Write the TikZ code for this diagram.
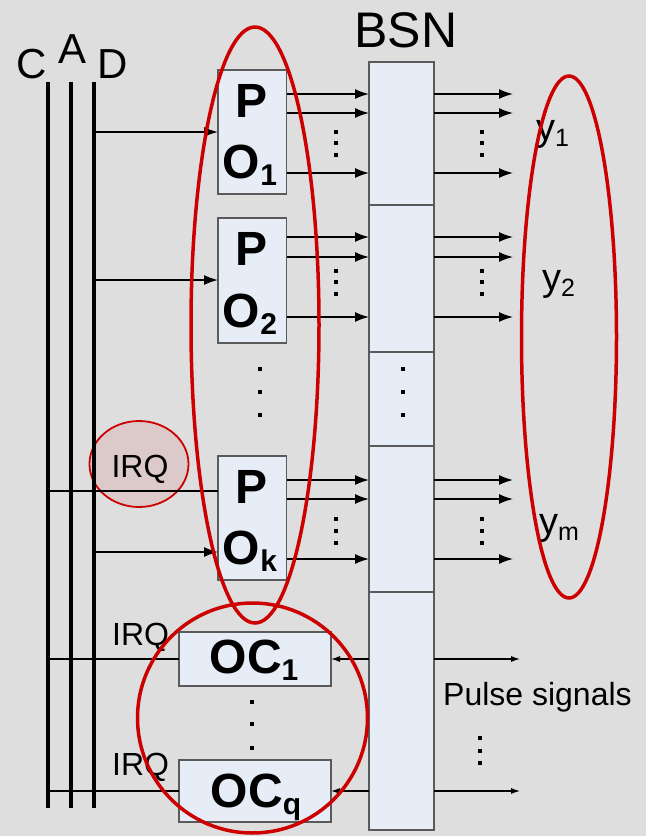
\documentclass[tikz,border=0pt]{standalone}
\usepackage{fontspec}
\setmainfont{Liberation Sans}
\usetikzlibrary{arrows.meta,shapes.geometric}
\definecolor{bg}{HTML}{DEDEDE}
\definecolor{boxfill}{HTML}{E6EDF7}
\definecolor{boxline}{HTML}{5A5A5A}
\definecolor{ringred}{HTML}{CC0000}
\definecolor{irqfill}{HTML}{DCCACB}
\newcommand\mysb[1]{\raisebox{-7pt}{\fontsize{30}{30}\selectfont #1}}
\newcommand\ysb[1]{\raisebox{-6pt}{\fontsize{25}{25}\selectfont #1}}
\begin{document}
\begin{tikzpicture}[x=1pt,y=-1pt,
  blk/.style={draw=boxline,fill=boxfill,line width=1.2pt,inner sep=0pt,outer sep=0pt,anchor=north west},
  bigarrow/.style={line width=1.5pt,-{Latex[length=14pt,width=10pt]}},
  smallarrow/.style={line width=1.1pt,-{Latex[length=9pt,width=6pt]}},
  plainline/.style={line width=1.3pt},
  busline/.style={line width=4pt},
  ring/.style={draw=ringred,line width=3.5pt},
  bigtxt/.style={font=\fontsize{48}{48}\selectfont\bfseries,inner sep=0pt,anchor=base},
  lbl/.style={font=\fontsize{32}{32}\selectfont,inner sep=0pt},
  ylbl/.style={font=\fontsize{38}{38}\selectfont,inner sep=0pt,anchor=base west},
  busname/.style={font=\fontsize{42}{42}\selectfont,inner sep=0pt,anchor=base}]
\useasboundingbox (0,0) rectangle (646,836);
\fill[bg] (0,0) rectangle (646,836);
% IRQ ellipse (under the lines)
\node[ellipse,draw=ringred,fill=irqfill,line width=1.8pt,minimum width=99pt,minimum height=86pt,inner sep=0pt] (irqring) at (139,464) {};
\node[lbl,anchor=base] (irqtxt) at (140,477) {IRQ};
% bus lines
\coordinate (Ct) at (48,82); \coordinate (Cb) at (48,808);
\coordinate (At) at (71,82); \coordinate (Ab) at (71,808);
\coordinate (Dt) at (94,82); \coordinate (Db) at (94,808);
\draw[busline] (Ct) -- (Cb);
\draw[busline] (At) -- (Ab);
\draw[busline] (Dt) -- (Db);
\node[busname] (clbl) at (32,78) {C};
\node[busname] (albl) at (73,63) {A};
\node[busname] (dlbl) at (113,78) {D};
\node[font=\fontsize{50}{50}\selectfont,inner sep=0pt,anchor=base] (bsnlbl) at (406,47) {BSN};
% BSN segments
\node[blk,minimum width=65pt,minimum height=143pt] (b1) at (369,62) {};
\node[blk,minimum width=65pt,minimum height=147pt] (b2) at (369,205) {};
\node[blk,minimum width=65pt,minimum height=94pt] (b3) at (369,352) {};
\node[blk,minimum width=65pt,minimum height=146pt] (b4) at (369,446) {};
\node[blk,minimum width=65pt,minimum height=238pt] (b5) at (369,592) {};
% PO boxes
\node[blk,minimum width=68.5pt,minimum height=124pt] (p1) at (218,70) {};
\node[blk,minimum width=68.5pt,minimum height=125pt] (p2) at (218,218) {};
\node[blk,minimum width=68.5pt,minimum height=124pt] (pk) at (218,456) {};
\node[bigtxt] (p1a) at (252,117) {P};
\node[bigtxt] (p1b) at (250,178) {O\mysb{1}};
\node[bigtxt] (p2a) at (252,265) {P};
\node[bigtxt] (p2b) at (250,327) {O\mysb{2}};
\node[bigtxt] (pka) at (252,503) {P};
\node[bigtxt] (pkb) at (250,564) {O\mysb{k}};
% OC boxes
\node[blk,minimum width=152pt,minimum height=54pt] (oc1) at (179,632) {};
\node[blk,minimum width=152pt,minimum height=62pt] (ocq) at (179,760) {};
\node[bigtxt] (oc1t) at (254,673) {OC\mysb{1}};
\node[bigtxt] (ocqt) at (256,807) {OC\mysb{q}};
% inputs from D
\draw[bigarrow] (Dt |- 0,132) -- (p1.west |- 0,132);
\draw[bigarrow] (Dt |- 0,280) -- (p2.west |- 0,280);
\draw[bigarrow] (Dt |- 0,552) -- (pk.west |- 0,552);
\draw[plainline] (Ct |- 0,491) -- (pk.west |- 0,491);
\draw[plainline] (Ct |- 0,659) -- (oc1.west |- 0,659);
\draw[plainline] (Ct |- 0,791) -- (ocq.west |- 0,791);
\node[lbl,anchor=base west] (irq1) at (112,645) {IRQ};
\node[lbl,anchor=base west] (irq2) at (112,775) {IRQ};
% PO -> BSN -> outputs
\foreach \yy/\pb/\bb in {94/p1/b1,113/p1/b1,173/p1/b1,237/p2/b2,257/p2/b2,317/p2/b2,480/pk/b4,499/pk/b4,559/pk/b4}{
  \coordinate (o\yy) at (513,\yy);
  \draw[bigarrow] (\pb.east |- 0,\yy) -- (\bb.west |- 0,\yy);
  \draw[bigarrow] (\bb.east |- 0,\yy) -- (o\yy);
}
% BSN -> OC and pulse signals
\coordinate (ps1) at (520,659);
\coordinate (ps2) at (520,791);
\draw[smallarrow] (b5.west |- 0,659) -- (oc1.east |- 0,659);
\draw[smallarrow] (b5.west |- 0,791) -- (ocq.east |- 0,791);
\draw[smallarrow] (b5.east |- 0,659) -- (ps1);
\draw[smallarrow] (b5.east |- 0,791) -- (ps2);
\node[lbl,anchor=base west] (pulse) at (443,705) {Pulse signals};
% dots
\foreach \xx/\yy in {336/132,336/143,336/155,482/132,482/143,482/155,
  336/271,336/282,336/294,482/271,482/282,482/294,
  336/519,336/531,336/543,482/519,482/531,482/543,
  260/369,260/392,260/415,403/369,403/392,403/415,
  252/702,252/724,252/748,480/738,480/751,480/763}{
  \fill (\xx-2.2,\yy-2.2) rectangle (\xx+2.2,\yy+2.2);
}
% y labels
\node[ylbl] (y1) at (536,140) {y\ysb{1}};
\node[ylbl] (y2) at (542,290) {y\ysb{2}};
\node[ylbl] (ym) at (539,534) {y\ysb{m}};
% red rings
\draw[ring] (255,325) ellipse [x radius=64, y radius=298];
\draw[ring] (569,337) ellipse [x radius=47.5, y radius=261];
\draw[ring] (252.5,718) circle [radius=115];
\end{tikzpicture}
\end{document}
